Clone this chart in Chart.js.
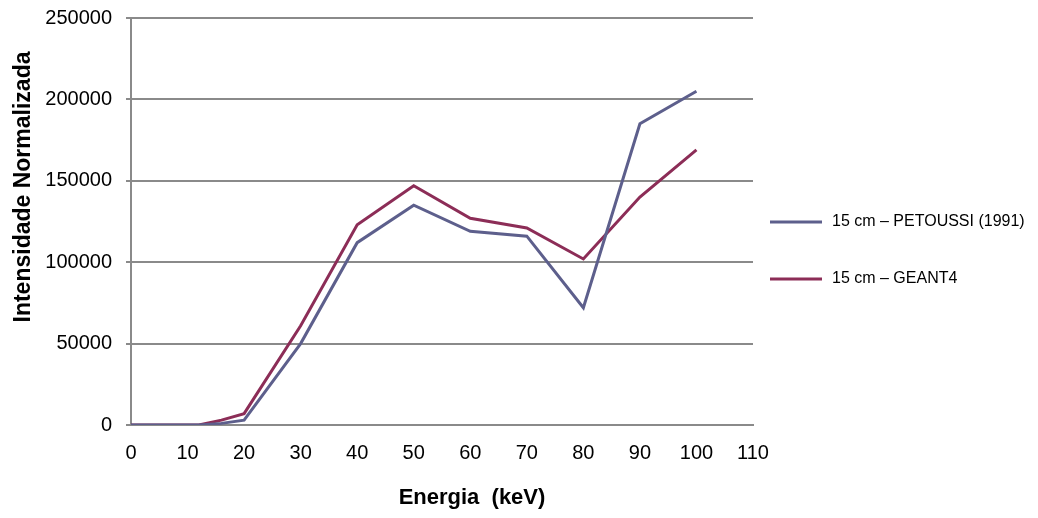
<!DOCTYPE html>
<html>
<head>
<meta charset="utf-8">
<script src="https://cdn.jsdelivr.net/npm/chart.js@4"></script>
<style>
  html, body { margin: 0; padding: 0; background: #fff; }
  #wrap { width: 1038px; height: 518px; position: relative; }
</style>
</head>
<body>
<div id="wrap"><canvas id="grafico"></canvas></div>
<script>
// Energia (keV) dos pontos
const energia = [0, 12, 16, 20, 30, 40, 50, 60, 70, 80, 90, 100];
// 15 cm - PETOUSSI (1991)
const petoussi = [0, 0, 1000, 3000, 50000, 112000, 135000, 119000, 116000, 72000, 185000, 205000];
// 15 cm - GEANT4
const geant4 = [0, 0, 3000, 7000, 61000, 123000, 147000, 127000, 121000, 102000, 140000, 169000];

const nomesSeries = ['15 cm \u2013 PETOUSSI (1991)', '15 cm \u2013 GEANT4'];
const coresSeries = ['#5d5f8c', '#8c2d57'];
const tituloX = 'Energia  (keV)';
const tituloY = 'Intensidade Normalizada';

function pontos(ys) {
    return energia.map((x, i) => ({ x: x, y: ys[i] }));
}

// Titulos dos eixos e legenda desenhados a mao
const textosPlugin = {
    id: 'textos',
    afterDraw(chart) {
        const ctx = chart.ctx;
        ctx.save();
        ctx.fillStyle = '#000';
        ctx.textBaseline = 'middle';

        // titulo eixo Y
        ctx.save();
        ctx.translate(24, 187);
        ctx.rotate(-Math.PI / 2);
        ctx.font = 'bold 23px "Liberation Sans", Arial, sans-serif';
        ctx.textAlign = 'center';
        ctx.fillText(tituloY, 0, 0);
        ctx.restore();

        // titulo eixo X
        ctx.font = 'bold 22px "Liberation Sans", Arial, sans-serif';
        ctx.textAlign = 'center';
        ctx.fillText(tituloX, 472, 498);

        // legenda
        ctx.font = '16px "Liberation Sans", Arial, sans-serif';
        ctx.textAlign = 'left';
        const ys = [222, 279];
        nomesSeries.forEach((nome, i) => {
            ctx.strokeStyle = coresSeries[i];
            ctx.lineWidth = 3;
            ctx.beginPath();
            ctx.moveTo(770, ys[i]);
            ctx.lineTo(822, ys[i]);
            ctx.stroke();
            ctx.fillText(nome, 832, ys[i]);
        });
        ctx.restore();
    }
};

const ctx = document.getElementById('grafico').getContext('2d');
new Chart(ctx, {
    type: 'scatter',
    data: {
        datasets: [{
            label: nomesSeries[0],
            data: pontos(petoussi),
            showLine: true,
            borderColor: coresSeries[0],
            borderWidth: 3,
            pointRadius: 0,
            tension: 0
        }, {
            label: nomesSeries[1],
            data: pontos(geant4),
            showLine: true,
            borderColor: coresSeries[1],
            borderWidth: 3,
            pointRadius: 0,
            tension: 0
        }]
    },
    options: {
        responsive: true,
        maintainAspectRatio: false,
        animation: false,
        layout: { padding: { left: 0, top: 18, right: 285, bottom: 0 } },
        plugins: {
            legend: { display: false },
            tooltip: { enabled: false }
        },
        scales: {
            x: {
                type: 'linear',
                min: 0,
                max: 110,
                ticks: {
                    stepSize: 10,
                    color: '#000',
                    padding: 16,
                    font: { family: '"Liberation Sans", Arial, sans-serif', size: 20 }
                },
                grid: { display: false, drawTicks: false },
                border: { color: '#8a8a8a', width: 2 },
                afterFit(scale) {
                    scale.height = 93;
                    scale.paddingLeft = 0;
                    scale.paddingRight = 0;
                }
            },
            y: {
                min: 0,
                max: 250000,
                ticks: {
                    stepSize: 50000,
                    color: '#000',
                    padding: 14,
                    font: { family: '"Liberation Sans", Arial, sans-serif', size: 20 },
                    callback: (v) => String(v)
                },
                grid: { color: '#8a8a8a', lineWidth: 2, tickLength: 5 },
                border: { color: '#8a8a8a', width: 2 },
                afterFit(scale) {
                    scale.width = 131;
                    scale.paddingTop = 0;
                    scale.paddingBottom = 0;
                }
            }
        }
    },
    plugins: [textosPlugin]
});
</script>
</body>
</html>
